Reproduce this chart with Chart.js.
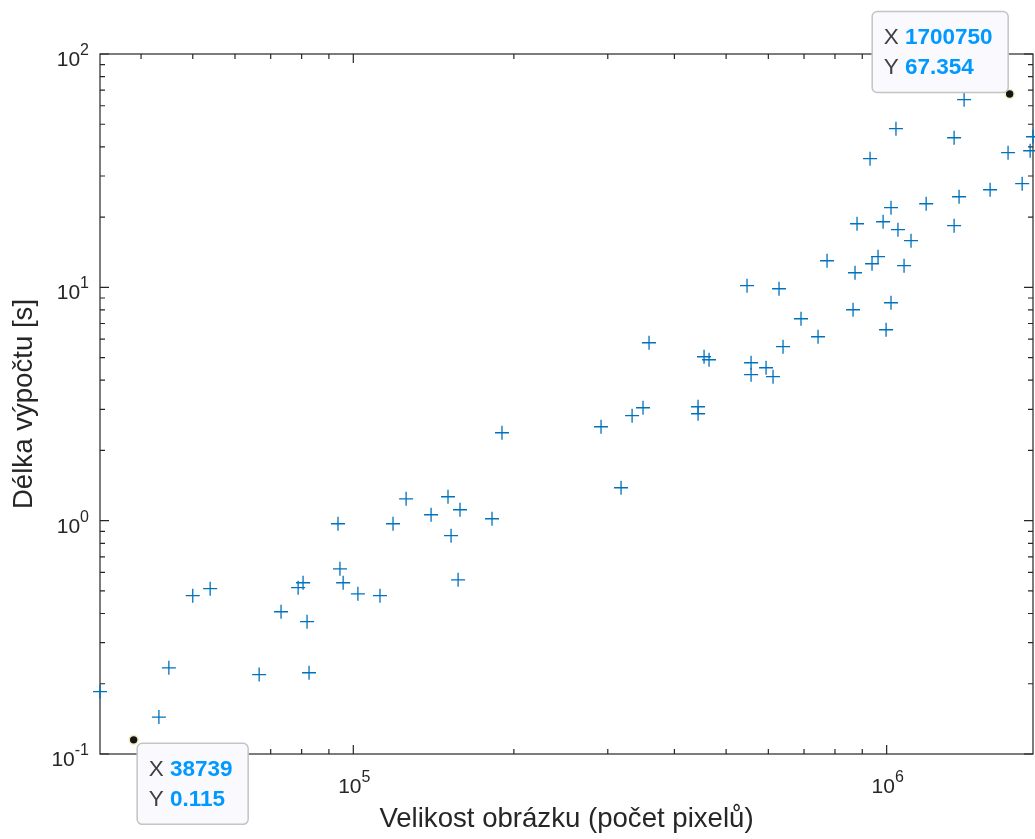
<!DOCTYPE html>
<html><head><meta charset="utf-8">
<script src="https://cdn.jsdelivr.net/npm/chart.js@4.4.1/dist/chart.umd.min.js"></script>
<style>html,body{margin:0;padding:0;background:#fff;overflow:hidden}#wrap{width:1035px;height:839px}</style>
</head><body><div id="wrap"><canvas id="c" width="1035" height="839"></canvas></div>
<script>
// ---- data ----
const pixelCount = [33500, 43200, 45100, 50000, 53900, 66600, 73200, 78800, 80500, 81900, 82600,
  93600, 94400, 95700, 102000, 112200, 118700, 125600, 139900, 150500, 152500, 158500, 157200,
  182000, 190000, 291400, 317700, 333200, 349300, 358500, 443000, 443000, 454600, 464500, 547300,
  556900, 556900, 594100, 612300, 628400, 639300, 690900, 743600, 773100, 865000, 872400, 880000,
  930800, 938800, 963500, 984800, 997500, 1019000, 1019000, 1041000, 1050000, 1078000, 1111000,
  1186000, 1338000, 1338000, 1367000, 1397000, 1563000, 1689000, 1795000, 1858000, 1881000];
const runTime = [0.185, 0.144, 0.234, 0.477, 0.511, 0.219, 0.407, 0.516, 0.542, 0.369, 0.223,
  0.970, 0.622, 0.542, 0.486, 0.477, 0.970, 1.241, 1.060, 1.266, 0.862, 1.114, 0.558,
  1.019, 2.381, 2.526, 1.384, 2.817, 3.047, 5.788, 3.078, 2.872, 5.040, 4.894, 10.16,
  4.751, 4.222, 4.523, 4.139, 9.862, 5.565, 7.336, 6.142, 13.00, 8.017, 11.55, 18.73,
  35.58, 12.62, 13.53, 19.10, 6.580, 8.590, 21.94, 47.84, 17.66, 12.38, 15.84,
  22.82, 43.77, 18.37, 24.45, 63.70, 26.20, 37.75, 27.81, 38.50, 44.20];
const tipX = [38739, 1700750];
const tipY = [0.115, 67.354];
const xTickExponents = [5, 6];
const yTickExponents = [-1, 0, 1, 2];
const yRange = [0.1, 100];
const xLabel = 'Velikost obrázku (počet pixelů)';
const yLabel = 'Délka výpočtu [s]';

// ---- styling ----
const AX = '#262626';
const FONT = '"Liberation Sans", Arial, Helvetica, sans-serif';
const tipPlacement = ['se', 'nw'];

const frame = {
  id: 'frame',
  beforeDatasetsDraw(chart) {
    const {ctx, chartArea: a, scales: {x, y}} = chart;
    ctx.save();
    ctx.strokeStyle = AX;
    ctx.lineWidth = 1.2;
    const ticks = (s, horiz) => {
      const lo = Math.floor(Math.log10(s.min)), hi = Math.ceil(Math.log10(s.max));
      for (let e = lo; e <= hi; e++) for (let m = 1; m <= 9; m++) {
        const v = m * Math.pow(10, e);
        if (v < s.min * 0.9999 || v > s.max * 1.0001) continue;
        const p = s.getPixelForValue(v);
        const len = m === 1 ? 9 : 5;
        ctx.beginPath();
        if (horiz) {
          ctx.moveTo(p, a.bottom); ctx.lineTo(p, a.bottom - len);
          ctx.moveTo(p, a.top); ctx.lineTo(p, a.top + len);
        } else {
          ctx.moveTo(a.left, p); ctx.lineTo(a.left + len, p);
          ctx.moveTo(a.right, p); ctx.lineTo(a.right - len, p);
        }
        ctx.stroke();
      }
    };
    ticks(x, true);
    ticks(y, false);
    ctx.strokeRect(a.left, a.top, a.right - a.left, a.bottom - a.top);

    // tick labels with superscript exponents
    ctx.fillStyle = AX;
    ctx.textBaseline = 'alphabetic';
    const baseF = '21px ' + FONT, expF = '16px ' + FONT;
    xTickExponents.forEach(e => {
      const p = x.getPixelForValue(Math.pow(10, e));
      ctx.font = baseF; const wb = ctx.measureText('10').width;
      ctx.font = expF; const we = ctx.measureText(String(e)).width;
      const x0 = p - (wb + we) / 2 + 1;
      const by = a.bottom + 39;
      ctx.textAlign = 'left';
      ctx.font = baseF; ctx.fillText('10', x0, by);
      ctx.font = expF; ctx.fillText(String(e), x0 + wb, by - 11);
    });
    yTickExponents.forEach(e => {
      const p = y.getPixelForValue(Math.pow(10, e));
      const es = String(e);
      ctx.font = expF; const we = ctx.measureText(es).width;
      ctx.font = baseF; const wb = ctx.measureText('10').width;
      const xr = a.left - 11;
      const by = p + 12;
      ctx.textAlign = 'left';
      ctx.font = baseF; ctx.fillText('10', xr - we - wb, by);
      ctx.font = expF; ctx.fillText(es, xr - we, by - 11);
    });
    ctx.restore();
  },
  afterDraw(chart) {
    const {ctx, scales: {x, y}} = chart;
    ctx.save();
    const lf = '22.5px ' + FONT, vf = 'bold 22.5px ' + FONT;
    tipX.forEach((tx, i) => {
      const px = x.getPixelForValue(tx), py = y.getPixelForValue(tipY[i]);
      const rows = [['X', String(tx)], ['Y', String(tipY[i])]];
      let w = 0;
      rows.forEach(r => {
        ctx.font = lf; const a = ctx.measureText(r[0] + ' ').width;
        ctx.font = vf; const b = ctx.measureText(r[1]).width;
        w = Math.max(w, a + b);
      });
      const bw = Math.round(w + 27), bh = 81;
      let bx, by;
      if (tipPlacement[i] === 'se') { bx = px + 3; by = py + 3; }
      else { bx = px - 2 - bw; by = py - 2 - bh; }
      ctx.beginPath();
      ctx.roundRect(bx + 0.5, by + 0.5, bw, bh, 5);
      ctx.fillStyle = '#f9f9fe';
      ctx.fill();
      ctx.lineWidth = 1.5;
      ctx.strokeStyle = '#c4c4c4';
      ctx.stroke();
      ctx.textBaseline = 'middle';
      ctx.textAlign = 'left';
      rows.forEach((r, k) => {
        const ty = by + 27 + k * 30;
        ctx.font = lf; ctx.fillStyle = '#404040';
        ctx.fillText(r[0], bx + 12, ty);
        const a = ctx.measureText(r[0] + ' ').width;
        ctx.font = vf; ctx.fillStyle = '#0099ff';
        ctx.fillText(r[1], bx + 12 + a, ty);
      });
    });
    ctx.restore();
  }
};

new Chart(document.getElementById('c'), {
  type: 'scatter',
  data: {
    datasets: [{
      data: pixelCount.map((v, i) => ({x: v, y: runTime[i]})),
      pointStyle: 'cross',
      pointRadius: 7,
      borderColor: '#0072BD',
      borderWidth: 1.3,
      clip: false
    }, {
      data: tipX.map((v, i) => ({x: v, y: tipY[i]})),
      pointStyle: 'circle',
      pointRadius: 4.5,
      backgroundColor: '#151515',
      borderColor: '#f3eec0',
      borderWidth: 1.6,
      clip: false
    }]
  },
  options: {
    responsive: false,
    animation: false,
    events: [],
    devicePixelRatio: 1,
    layout: {autoPadding: false, padding: {left: 0, top: 54, right: 2, bottom: 0}},
    plugins: {legend: {display: false}, tooltip: {enabled: false}},
    scales: {
      x: {
        type: 'logarithmic',
        min: Math.min(...pixelCount),
        max: Math.max(...pixelCount),
        grid: {display: false},
        border: {display: false},
        ticks: {display: false},
        title: {display: true, text: xLabel, color: AX, font: {family: FONT, size: 27.6}, padding: {top: 0, bottom: 3}},
        afterFit(s) { s.height = 85; }
      },
      y: {
        type: 'logarithmic',
        min: yRange[0],
        max: yRange[1],
        grid: {display: false},
        border: {display: false},
        ticks: {display: false},
        title: {display: true, text: yLabel, color: AX, font: {family: FONT, size: 27.6}, padding: {top: 8, bottom: 0}},
        afterFit(s) { s.width = 100; }
      }
    }
  },
  plugins: [frame]
});
</script>
</body></html>
